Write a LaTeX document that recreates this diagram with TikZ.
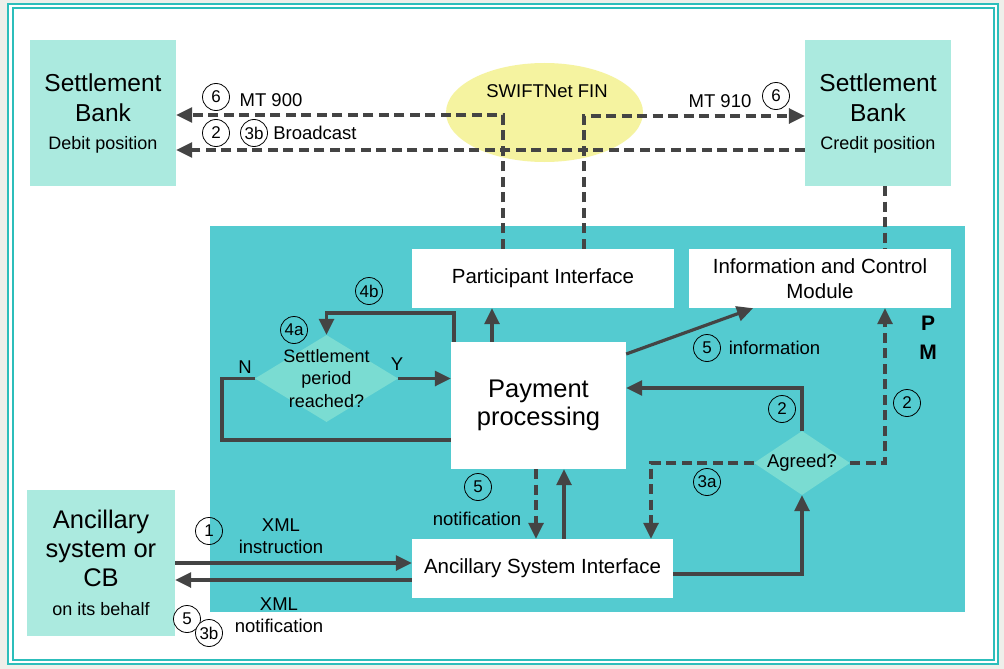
\documentclass[tikz,border=0pt]{standalone}
\usepackage{fontspec}
\setmainfont{Liberation Sans}
\usetikzlibrary{shapes.geometric,arrows.meta}
\definecolor{mint}{HTML}{ABEADF}
\definecolor{pmteal}{HTML}{54CBD0}
\definecolor{dia}{HTML}{7ADCD2}
\definecolor{swy}{HTML}{F5F3A0}
\definecolor{framec}{HTML}{2CBEBB}
\definecolor{ln}{HTML}{444444}
\definecolor{outbg}{HTML}{EEEFEA}
\begin{document}
\begin{tikzpicture}[x=1pt,y=-1pt,
  mintbox/.style={rectangle, fill=mint, inner sep=0pt, align=center},
  whitebox/.style={rectangle, fill=white, inner sep=0pt, align=center, font=\fontsize{20.5}{25}\selectfont},
  num/.style={circle, draw=black, line width=0.8pt, minimum size=27pt, inner sep=0pt, font=\fontsize{17}{17}\selectfont},
  lbl/.style={inner sep=0pt, align=center, font=\fontsize{18.5}{22.5}\selectfont},
  sline/.style={draw=ln, line width=3.2pt},
  dline/.style={sline, dash pattern=on 10pt off 5.5pt},
  tip/.style={-{Triangle[length=16pt,width=15pt]}}]
\useasboundingbox (0,0) rectangle (1004,669);
\fill[outbg] (0,0) rectangle (1004,669);
\filldraw[fill=white, draw=framec, line width=2pt] (8,4) rectangle (998,664);
\draw[framec, line width=2pt] (12.5,8) rectangle (993.5,660);

% helper coordinates
\coordinate (x222) at (222,0);
\coordinate (x454) at (454,0);
\coordinate (x492) at (492,0);
\coordinate (x503) at (503,0);
\coordinate (x536) at (536,0);
\coordinate (x564) at (564,0);
\coordinate (x584) at (584,0);
\coordinate (x651) at (651,0);
\coordinate (x753) at (753,0);
\coordinate (x885) at (885,0);
\coordinate (y115) at (0,115);
\coordinate (y116) at (0,116);
\coordinate (y150) at (0,150);
\coordinate (y313) at (0,313);
\coordinate (y354) at (0,354);
\coordinate (y388) at (0,388);
\coordinate (y440) at (0,440);
\coordinate (y563) at (0,563);
\coordinate (y574) at (0,574);
\coordinate (y580) at (0,580);

% PM area
\node[rectangle, fill=pmteal, minimum width=755, minimum height=386, inner sep=0pt] (pm) at (587.5,419) {};
\node[font=\bfseries\fontsize{21}{29}\selectfont, align=center, inner sep=0pt] (tpm) at (928,338) {P\\M};

% main nodes
\node[mintbox, minimum width=146, minimum height=146, font=\fontsize{24.5}{30}\selectfont] (sbd) at (103,113)
  {Settlement\\Bank\\[-2pt]\fontsize{18}{20}\selectfont Debit position};
\node[mintbox, minimum width=146, minimum height=146, font=\fontsize{24.5}{30}\selectfont] (sbc) at (878,113)
  {Settlement\\Bank\\[-2pt]\fontsize{18}{20}\selectfont Credit position};
\node[ellipse, fill=swy, minimum width=197, minimum height=99, inner sep=0pt] (swift) at (544.5,112.5) {};
\node[lbl] (tsw) at (547,91) {SWIFTNet FIN};
\node[whitebox, minimum width=262, minimum height=59] (pi) at (543,278.5) {Participant Interface};
\node[whitebox, minimum width=262, minimum height=59] (icm) at (820,278.5) {Information and Control\\Module};
\node[rectangle, fill=white, inner sep=0pt, align=center, minimum width=175, minimum height=127, font=\fontsize{25.5}{28}\selectfont] (pp) at (538.5,405.5) {Payment\\processing};
\node[diamond, fill=dia, minimum width=143, minimum height=87, inner sep=0pt] (spr) at (326.5,378.5) {};
\node[lbl, font=\fontsize{18}{22.5}\selectfont] (sprt) at (spr.center) {Settlement\\period\\reached?};
\node[diamond, fill=dia, minimum width=96, minimum height=64, inner sep=0pt] (agr) at (802,463) {};
\node[lbl] (agrt) at (agr.center) {Agreed?};
\node[whitebox, minimum width=261, minimum height=59] (asi) at (542.5,568.5) {Ancillary System Interface};
\node[mintbox, minimum width=148, minimum height=146, font=\fontsize{25.5}{29}\selectfont] (anc) at (101,563)
  {Ancillary\\system or\\CB\\\fontsize{18}{20}\selectfont on its behalf};

% connectors
\draw[dline,tip] (pi.north -| x503) |- (sbd.east |- y115);
\draw[dline,tip] (sbc.west |- y150) -- (sbd.east |- y150);
\draw[dline,tip] (pi.north -| x584) |- (sbc.west |- y116);
\draw[dline] (sbc.south -| x885) -- (icm.north -| x885);
\draw[sline,tip] (pp.north -| x492) -- (pi.south -| x492);
\draw[sline,tip] (pp.north -| x454) |- (spr.north |- y313) -- (spr.north);
\draw[sline,tip] (spr.east) -- (pp.west |- spr.east);
\draw[sline] (spr.west) -- (spr.west -| x222) |- (pp.west |- y440);
\draw[sline,tip] (pp.east |- y354) -- (icm.south -| x753);
\draw[sline,tip] (agr.north) |- (pp.east |- y388);
\draw[dline,tip] (agr.east) -| (icm.south -| x885);
\draw[dline,tip] (agr.west) -| (asi.north -| x651);
\draw[dline,tip] (pp.south -| x536) -- (asi.north -| x536);
\draw[sline,tip] (asi.north -| x564) -- (pp.south -| x564);
\draw[sline,tip] (asi.east |- y574) -| (agr.south);
\draw[sline,tip] (anc.east |- y563) -- (asi.west |- y563);
\draw[sline,tip] (asi.west |- y580) -- (anc.east |- y580);

% labels
\node[num, fill=white] (c6a) at (216,97) {6};
\node[lbl] (t900) at (271,100) {MT 900};
\node[num, fill=white] (c2a) at (216,133) {2};
\node[num, fill=white] (c3ba) at (254,133) {3b};
\node[lbl] (tbc) at (315,133) {Broadcast};
\node[lbl] (t910) at (720,101) {MT 910};
\node[num, fill=white] (c6b) at (776,96) {6};
\node[num] (c4b) at (369,291) {4b};
\node[num] (c4a) at (294,330) {4a};
\node[lbl] (tY) at (397,364) {Y};
\node[lbl] (tN) at (245,367) {N};
\node[num] (c5i) at (707,348) {5};
\node[lbl] (tinf) at (774.5,348) {information};
\node[num] (c2b) at (782,409) {2};
\node[num] (c2c) at (907,403) {2};
\node[num] (c3a) at (707,482) {3a};
\node[num] (c5n) at (478,487) {5};
\node[lbl] (tnot) at (477,519) {notification};
\node[num] (c1) at (209,531) {1};
\node[lbl] (txi) at (281,536) {XML\\instruction};
\node[num, fill=white] (c5b) at (187,619) {5};
\node[num, fill=white] (c3bb) at (209,633) {3b};
\node[lbl] (txn) at (279,615) {XML\\notification};
\end{tikzpicture}
\end{document}
